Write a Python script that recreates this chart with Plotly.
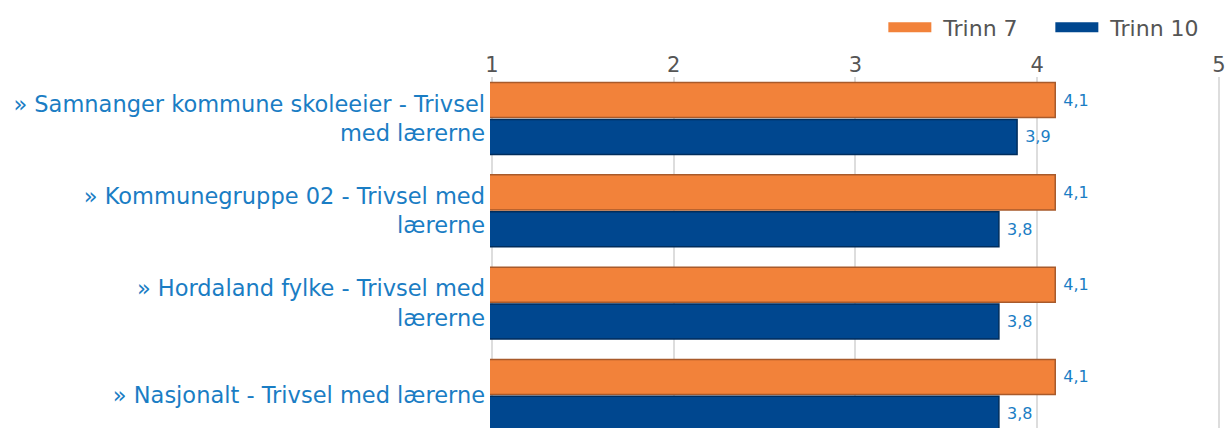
import plotly.graph_objects as go

categories = [
    "» Samnanger kommune skoleeier - Trivsel<br>med lærerne",
    "» Kommunegruppe 02 - Trivsel med<br>lærerne",
    "» Hordaland fylke - Trivsel med<br>lærerne",
    "» Nasjonalt - Trivsel med lærerne",
]
series_names = ["Trinn 7", "Trinn 10"]
trinn7 = [4.1, 4.1, 4.1, 4.1]
trinn10 = [3.89, 3.79, 3.79, 3.79]
x_ticks = [1, 2, 3, 4, 5]

orange = "#F2823A"
orange_edge = "#A85A2B"
blue = "#00478F"
blue_edge = "#002D5C"
label_blue = "#1A7DC4"
grey_text = "#555555"
FONT = "DejaVu Sans"

fig = go.Figure()
for name, vals, col, edge in [(series_names[0], trinn7, orange, orange_edge),
                              (series_names[1], trinn10, blue, blue_edge)]:
    fig.add_trace(go.Bar(
        y=categories, x=vals, orientation="h", name=name,
        marker=dict(color=col, line=dict(color=edge, width=1.5)),
        texttemplate=" %{x:.1f}", textposition="outside",
        textfont=dict(size=16, color=label_blue, family=FONT),
        cliponaxis=False, showlegend=False,
    ))
    # legend swatch
    fig.add_trace(go.Scatter(
        x=[None], y=[None], mode="lines", name=" " + name,
        line=dict(color=col, width=17), showlegend=True,
    ))

fig.update_layout(
    width=1226, height=428,
    margin=dict(l=490, r=5, t=77, b=0),
    plot_bgcolor="white", paper_bgcolor="white",
    barmode="group", bargap=0.2, bargroupgap=0.05,
    separators=",.",
    font=dict(family=FONT, color=grey_text),
    legend=dict(orientation="h", x=0.995, xanchor="right", y=1.141, yanchor="middle",
                font=dict(size=22, color=grey_text, family=FONT),
                itemwidth=43, entrywidth=109, bgcolor="rgba(0,0,0,0)"),
    xaxis=dict(side="top", range=[0.99, 5.012], tickvals=x_ticks, showgrid=True,
               gridcolor="#DDDDDD", gridwidth=2, zeroline=False, showline=False,
               ticks="", tickfont=dict(size=21, color=grey_text, family=FONT)),
    yaxis=dict(type="category", range=[3.353, -0.45], showgrid=False, ticks="",
               tickfont=dict(size=22.5, color=label_blue, family=FONT),
               ticklabelstandoff=4),
)

fig.write_html("out.html",
               config={"displayModeBar": False},
               post_script="document.body.style.margin='0';document.body.style.overflow='hidden';")
